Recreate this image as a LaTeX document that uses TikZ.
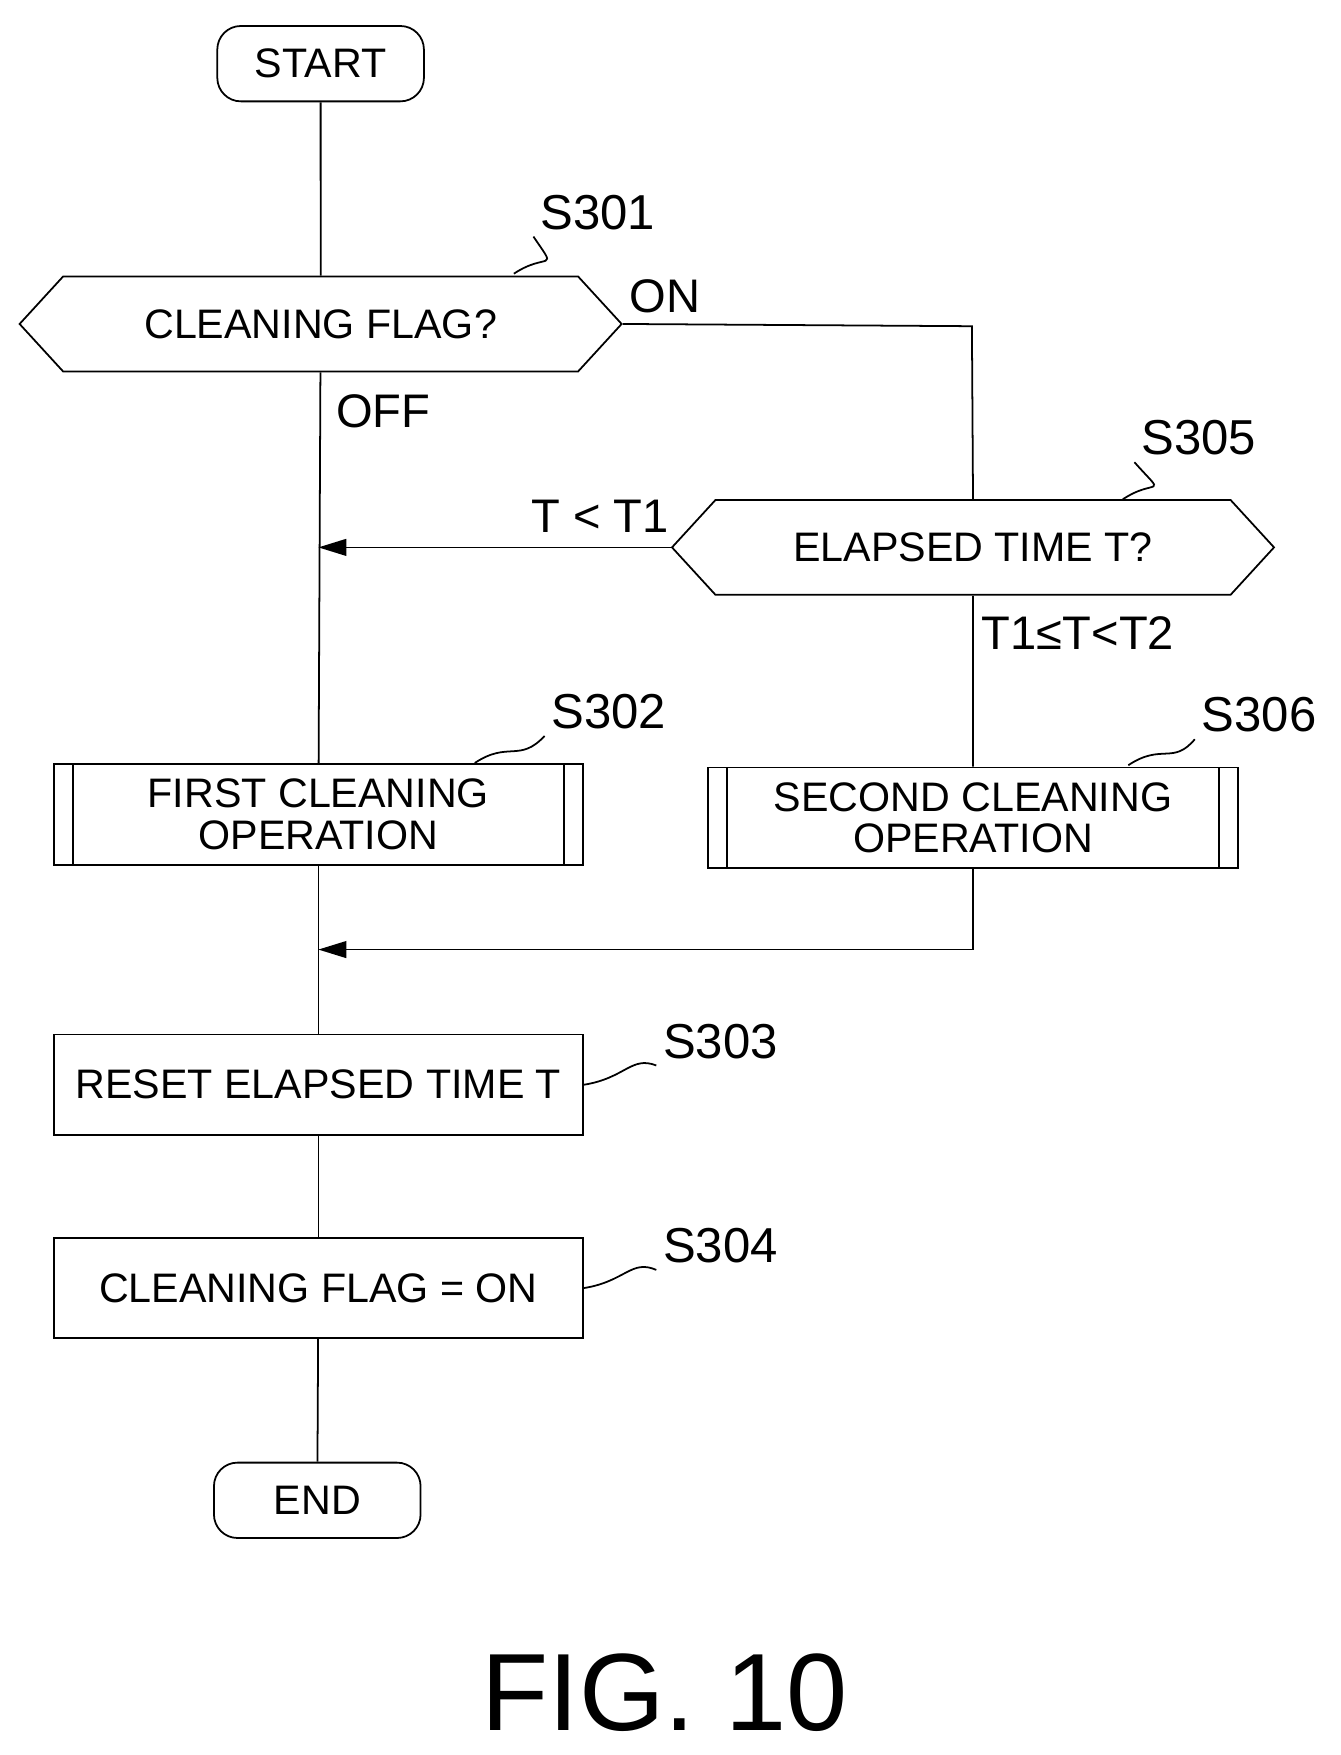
\documentclass[tikz,border=0pt]{standalone}
\usepackage{fontspec}
\setmainfont{Liberation Sans}
\usetikzlibrary{arrows.meta,shapes.symbols,positioning}
\tikzset{
  flow/.style={draw, line width=0.9pt, align=center, font=\fontsize{21}{25}\selectfont},
  term/.style={flow, rounded corners=12pt, minimum width=3.7cm, minimum height=1.35cm},
  proc/.style={flow, minimum width=9.48cm, minimum height=1.8cm},
  subproc/.style={proc, path picture={
      \draw ([xshift=0.34cm]path picture bounding box.north west) -- ([xshift=0.34cm]path picture bounding box.south west);
      \draw ([xshift=-0.34cm]path picture bounding box.north east) -- ([xshift=-0.34cm]path picture bounding box.south east);}},
  decide/.style={flow, shape=signal, signal to=west and east, signal pointer angle=95, minimum width=10.78cm, minimum height=1.7cm},
  steplbl/.style={font=\fontsize{25}{28}\selectfont},
  lbl/.style={font=\fontsize{24}{28}\selectfont},
  conn/.style={line width=0.9pt},
  arr/.style={conn, -{Triangle[length=0.5cm,width=0.3cm]}}
}
\begin{document}
\begin{tikzpicture}[x=0.02cm,y=-0.02cm]
 \useasboundingbox (0,0) rectangle (1200,1571);
 \node[term] (start) at (287,57) {START};
 \node[decide] (s301) at (287,290) {CLEANING FLAG?};
 \node[decide] (s305) at (871,490) {ELAPSED TIME T?};
 \node[subproc] (s302) at (285,729) {FIRST CLEANING\\[-4pt]OPERATION};
 \node[subproc] (s306) at (871,732) {SECOND CLEANING\\[-4pt]OPERATION};
 \node[proc] (s303) at (285,971) {RESET ELAPSED TIME T};
 \node[proc] (s304) at (285,1153) {CLEANING FLAG = ON};
 \node[term] (end) at (284,1343) {END};
 \coordinate (j1) at (285,490);
 \coordinate (j2) at (285,850);
 \coordinate (k1) at (870,292);
 %
 \draw[conn] (start) -- (s301);
 \draw[conn] (s301) -- (s302);
 \draw[conn] (s302) -- (s303);
 \draw[conn] (s303) -- (s304);
 \draw[conn] (s304) -- (end);
 \draw[conn] (s301.east) -- (k1) -- (s305.north);
 \draw[arr] (s305.west) -- (j1);
 \draw[conn] (s305) -- (s306);
 \draw[arr] (s306.south) |- (j2);
 %
 \node[lbl] (on) at (595,265) {ON};
 \node[lbl] (off) at (343,368) {OFF};
 \node[lbl] (lt) at (537,462) {T < T1};
 \node[lbl] (mid) at (965,567) {T1≤T<T2};
 %
 \node[steplbl] (l301) at (535,190) {S301};
 \node[steplbl] (l305) at (1073,392) {S305};
 \node[steplbl] (l302) at (545,637) {S302};
 \node[steplbl] (l306) at (1127,640) {S306};
 \node[steplbl] (l303) at (645,932) {S303};
 \node[steplbl] (l304) at (645,1115) {S304};
 \draw[conn] (460,245) .. controls (490,225) and (500,245) .. (l301.south west);
 \draw[conn] (1005,447) .. controls (1035,427) and (1045,447) .. (l305.south west);
 \draw[conn] (425,683) .. controls (455,663) and (465,683) .. (l302.south west);
 \draw[conn] (1010,685) .. controls (1040,665) and (1050,685) .. (l306.south west);
 \draw[conn] (s303.east) .. controls (560,965) and (565,945) .. (l303.south west);
 \draw[conn] (s304.east) .. controls (560,1147) and (565,1127) .. (l304.south west);
 %
 \node[font=\fontsize{56}{60}\selectfont] (fig) at (595,1515) {FIG. 10};
\end{tikzpicture}
\end{document}
